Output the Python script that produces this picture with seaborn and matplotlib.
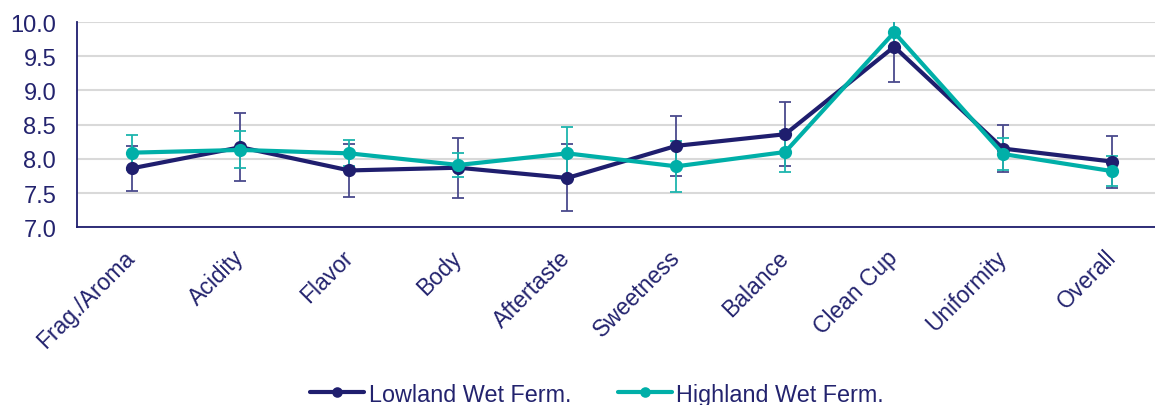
import numpy as np
import pandas as pd
import matplotlib
matplotlib.use("Agg")
import matplotlib.pyplot as plt
import seaborn as sns

# Cupping attributes and mean scores with their spread
attributes = ["Frag./Aroma", "Acidity", "Flavor", "Body", "Aftertaste",
              "Sweetness", "Balance", "Clean Cup", "Uniformity", "Overall"]
lowland_mean = [7.86, 8.17, 7.83, 7.87, 7.72, 8.19, 8.36, 9.64, 8.15, 7.96]
lowland_err = [0.33, 0.50, 0.39, 0.44, 0.49, 0.44, 0.47, 0.51, 0.35, 0.38]
highland_mean = [8.09, 8.13, 8.08, 7.91, 8.08, 7.89, 8.10, 9.85, 8.07, 7.82]
highland_err = [0.26, 0.27, 0.19, 0.17, 0.39, 0.37, 0.30, 0.20, 0.23, 0.22]
series_names = ["Lowland Wet Ferm.", "Highland Wet Ferm."]
y_ticks = [7.0, 7.5, 8.0, 8.5, 9.0, 9.5, 10.0]

NAVY = "#1F1E6E"
TEAL = "#00AFA8"
NAVY_ERR = "#4A4A8C"
TEAL_ERR = "#1DB5AE"
TEXT = "#23236E"

df = pd.DataFrame({
    "attribute": attributes * 2,
    "score": lowland_mean + highland_mean,
    "group": [series_names[0]] * len(attributes) + [series_names[1]] * len(attributes),
})

sns.set_theme(style="white")
plt.rcParams["font.family"] = ["Liberation Sans", "DejaVu Sans"]

fig = plt.figure(figsize=(11.55, 4.06), dpi=100)
ax = fig.add_axes([0.0667, 0.438, 0.9433, 0.505])

xpos = np.arange(len(attributes))
ax.errorbar(xpos, lowland_mean, yerr=lowland_err, fmt="none", ecolor=NAVY_ERR,
            elinewidth=1.3, capsize=4.5, capthick=1.3, zorder=2)
ax.errorbar(xpos, highland_mean, yerr=highland_err, fmt="none", ecolor=TEAL_ERR,
            elinewidth=1.3, capsize=4.5, capthick=1.3, zorder=2)

sns.lineplot(data=df, x="attribute", y="score", hue="group", sort=False,
             palette=[NAVY, TEAL], marker="o", markersize=9.5,
             markeredgewidth=0, linewidth=3, ax=ax, zorder=3)

ax.set_xlim(-0.5, len(attributes) - 0.5)
ax.set_ylim(7.0, 10.0)
ax.set_yticks(y_ticks)
ax.set_yticklabels([f"{t:.1f}" for t in y_ticks], fontsize=17, color=TEXT)
ax.set_xticks(xpos)
ax.set_xticklabels(attributes, rotation=45, ha="right", va="center",
                   rotation_mode="anchor", fontsize=16.5, color=TEXT)
ax.tick_params(axis="x", length=0, pad=19)
ax.tick_params(axis="y", length=0, pad=15)
ax.set_xlabel("")
ax.set_ylabel("")

ax.yaxis.grid(True, color="#D9D9D9", linewidth=1.5)
ax.set_axisbelow(True)
for side in ["top", "right"]:
    ax.spines[side].set_visible(False)
for side in ["left", "bottom"]:
    ax.spines[side].set_color(NAVY)
    ax.spines[side].set_linewidth(1.3)

handles, labels = ax.get_legend_handles_labels()
ax.get_legend().remove()
leg = fig.legend(handles, labels, loc="lower center", bbox_to_anchor=(0.517, -0.053),
                 ncol=2, frameon=False, fontsize=16.8, handlelength=2.3,
                 handletextpad=0.2, columnspacing=2.0, markerscale=0.8)
for t in leg.get_texts():
    t.set_color(TEXT)

fig.savefig("out.png", dpi=100)
